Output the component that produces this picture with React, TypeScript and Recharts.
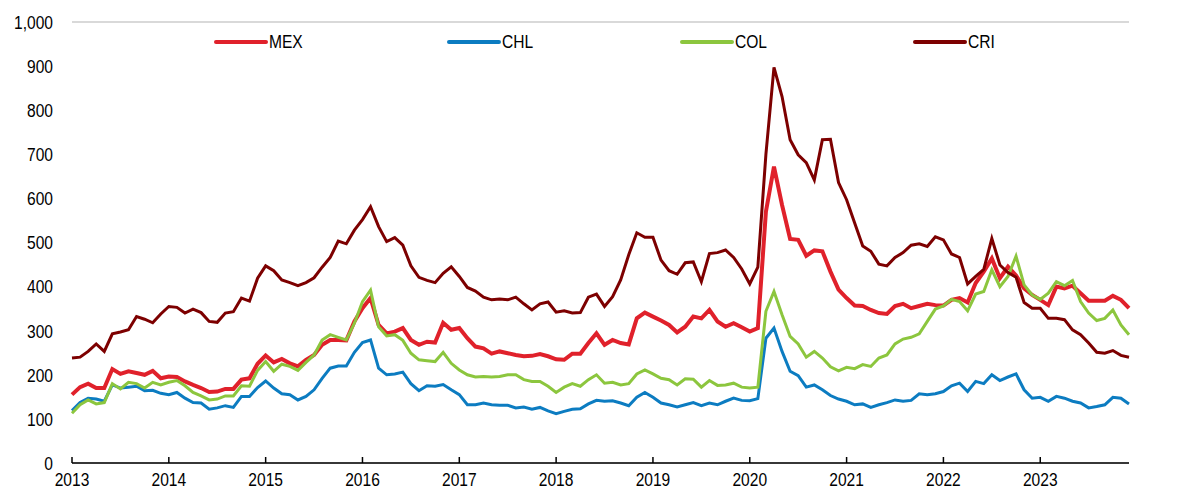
import React from 'react';
import { LineChart, Line, XAxis, YAxis, CartesianGrid, Legend } from 'recharts';

const FONT = "'Liberation Sans', Arial, sans-serif";

const years = ['2013', '2014', '2015', '2016', '2017', '2018', '2019', '2020', '2021', '2022', '2023'];
// one category per month, Jan 2013 .. Dec 2023
const months = years.flatMap((y) =>
  Array.from({ length: 12 }, (_, m) => `${y}-${String(m + 1).padStart(2, '0')}`)
);
const yearTicks = years.map((y) => `${y}-01`);
const yTicks = [0, 100, 200, 300, 400, 500, 600, 700, 800, 900, 1000];

const mex = [
  155, 172, 180, 170, 170, 213, 202, 208, 204, 200, 209, 192,
  196, 195, 185, 177, 170, 161, 162, 168, 168, 189, 192, 225,
  244, 228, 236, 226, 219, 234, 245, 268, 279, 279, 278, 321,
  351, 374, 313, 294, 298, 306, 279, 268, 275, 273, 318, 302,
  306, 283, 264, 260, 248, 253, 249, 245, 242, 243, 247, 242,
  235, 234, 248, 248, 272, 294, 268, 279, 272, 269, 328, 341,
  332, 323, 313, 296, 309, 332, 328, 347, 321, 309, 317, 308,
  298, 306, 570, 672, 585, 508, 506, 470, 482, 480, 434, 393,
  374, 357, 356, 347, 340, 338, 356, 361, 351, 356, 361, 358,
  357, 370, 374, 364, 408, 434, 464, 419, 445, 425, 396, 381,
  370, 358, 400, 396, 402, 385, 368, 368, 368, 379, 370, 351,
];

const chl = [
  119, 137, 147, 145, 140, 177, 170, 172, 174, 164, 165, 158,
  155, 160, 147, 137, 136, 122, 125, 130, 126, 151, 151, 171,
  186, 170, 157, 155, 143, 151, 166, 192, 215, 220, 220, 251,
  273, 279, 215, 200, 202, 206, 180, 164, 175, 174, 178, 166,
  155, 132, 132, 136, 132, 131, 131, 125, 127, 122, 126, 118,
  112, 117, 122, 123, 134, 142, 140, 141, 136, 130, 149, 160,
  149, 136, 132, 127, 132, 137, 130, 136, 132, 140, 147, 142,
  141, 146, 283, 306, 253, 208, 198, 172, 177, 166, 153, 145,
  140, 132, 134, 126, 132, 137, 143, 140, 142, 157, 155, 157,
  162, 175, 181, 162, 185, 180, 200, 187, 195, 202, 166, 147,
  149, 140, 151, 147, 140, 136, 125, 128, 132, 149, 147, 134,
];

const col = [
  113, 132, 143, 134, 137, 180, 168, 183, 180, 170, 183, 177,
  183, 187, 175, 160, 152, 143, 145, 152, 152, 175, 174, 210,
  230, 208, 224, 219, 210, 228, 245, 279, 291, 285, 279, 317,
  366, 392, 309, 288, 291, 278, 249, 234, 232, 230, 251, 226,
  211, 200, 195, 196, 195, 196, 200, 200, 189, 185, 185, 174,
  160, 172, 180, 174, 189, 200, 181, 183, 177, 180, 202, 211,
  202, 192, 189, 177, 191, 190, 172, 187, 176, 177, 181, 172,
  170, 172, 344, 389, 336, 287, 270, 240, 253, 238, 218, 209,
  217, 214, 223, 219, 238, 245, 270, 281, 285, 293, 321, 349,
  356, 371, 366, 345, 383, 389, 438, 400, 423, 469, 404, 381,
  371, 385, 411, 402, 414, 366, 340, 323, 328, 347, 313, 291,
];

const cri = [
  238, 240, 253, 270, 253, 293, 297, 302, 332, 326, 318, 338,
  355, 353, 340, 349, 341, 321, 319, 340, 343, 374, 367, 419,
  447, 436, 415, 409, 402, 409, 420, 444, 466, 503, 497, 528,
  552, 581, 536, 502, 511, 494, 447, 421, 414, 409, 430, 445,
  423, 398, 390, 376, 370, 372, 370, 376, 361, 347, 361, 365,
  342, 345, 340, 341, 376, 383, 355, 377, 415, 472, 522, 512,
  512, 460, 436, 428, 454, 456, 411, 475, 477, 483, 466, 440,
  406, 444, 700, 897, 831, 733, 699, 681, 642, 733, 734, 636,
  597, 544, 492, 480, 451, 447, 466, 477, 494, 497, 491, 513,
  506, 474, 466, 406, 423, 439, 509, 449, 432, 421, 364, 351,
  351, 328, 328, 325, 302, 291, 272, 251, 249, 255, 244, 240,
];

const series = [
  { key: 'MEX', color: '#e0212b', width: 4 },
  { key: 'CHL', color: '#0c7cc1', width: 3 },
  { key: 'COL', color: '#8cc63e', width: 3 },
  { key: 'CRI', color: '#7d0000', width: 3 },
];

const data = months.map((m, i) => ({
  month: m,
  MEX: mex[i],
  CHL: chl[i],
  COL: col[i],
  CRI: cri[i],
}));

const fmt = (v: number) => v.toLocaleString('en-US');

function YTick(props: any) {
  const { x, y, payload, textAnchor } = props;
  return (
    <text
      transform={`translate(${x},${y}) scale(0.82,1)`}
      textAnchor={textAnchor}
      dy="0.36em"
      fontSize={19}
      fontFamily={FONT}
      fill="#000"
    >
      {fmt(payload.value)}
    </text>
  );
}

function XTick(props: any) {
  const { x, y, payload } = props;
  return (
    <g>
      <line x1={x} x2={x} y1={y - 6} y2={y} stroke="#000" strokeWidth={1.5} />
      <text
        transform={`translate(${x},${y + 22.5}) scale(0.82,1)`}
        textAnchor="middle"
        fontSize={19}
        fontFamily={FONT}
        fill="#000"
      >
        {payload.value.slice(0, 4)}
      </text>
    </g>
  );
}

const renderLegend = () => (
  <div style={{ position: 'relative', width: 1191, height: 24 }}>
    {series.map((s, i) => (
      <div
        key={s.key}
        style={{
          position: 'absolute',
          left: 214 + i * 233,
          top: 0,
          height: 24,
          display: 'flex',
          alignItems: 'center',
        }}
      >
        <span
          style={{
            display: 'inline-block',
            width: 54,
            height: 4,
            borderRadius: 2,
            background: s.color,
          }}
        />
        <span
          style={{
            display: 'inline-block',
            marginLeft: 1,
            fontFamily: FONT,
            fontSize: 19,
            color: '#000',
            transform: 'scaleX(0.82)',
            transformOrigin: 'left center',
          }}
        >
          {s.key}
        </span>
      </div>
    ))}
  </div>
);

export default function App() {
  return (
    <div style={{ position: 'absolute', left: 0, top: 0, background: '#fff' }}>
      <LineChart width={1191} height={487} data={data} margin={{ top: 22, right: 0, bottom: 0, left: 0 }}>
        <CartesianGrid vertical={false} stroke="#d9d9d9" strokeWidth={2} />
        <XAxis
          dataKey="month"
          ticks={yearTicks}
          interval={0}
          height={24}
          tickSize={0}
          tickMargin={0}
          tickLine={false}
          axisLine={{ stroke: '#000', strokeWidth: 1.5 }}
          tick={<XTick />}
        />
        <YAxis
          yAxisId="left"
          orientation="left"
          width={72}
          domain={[0, 1000]}
          ticks={yTicks}
          interval={0}
          tickSize={0}
          tickMargin={19}
          axisLine={false}
          tickLine={false}
          tick={<YTick />}
        />
        <YAxis
          yAxisId="right"
          orientation="right"
          width={62}
          domain={[0, 1000]}
          ticks={yTicks}
          interval={0}
          tickSize={0}
          tickMargin={19}
          axisLine={false}
          tickLine={false}
          tick={<YTick />}
        />
        <Legend
          layout="horizontal"
          verticalAlign="middle"
          align="center"
          wrapperStyle={{ top: 30, left: 0, width: 1191, height: 24 }}
          content={renderLegend}
        />
        {series.map((s) => (
          <Line
            key={s.key}
            yAxisId="left"
            type="linear"
            dataKey={s.key}
            stroke={s.color}
            strokeWidth={s.width}
            dot={false}
            activeDot={false}
            isAnimationActive={false}
          />
        ))}
      </LineChart>
    </div>
  );
}
